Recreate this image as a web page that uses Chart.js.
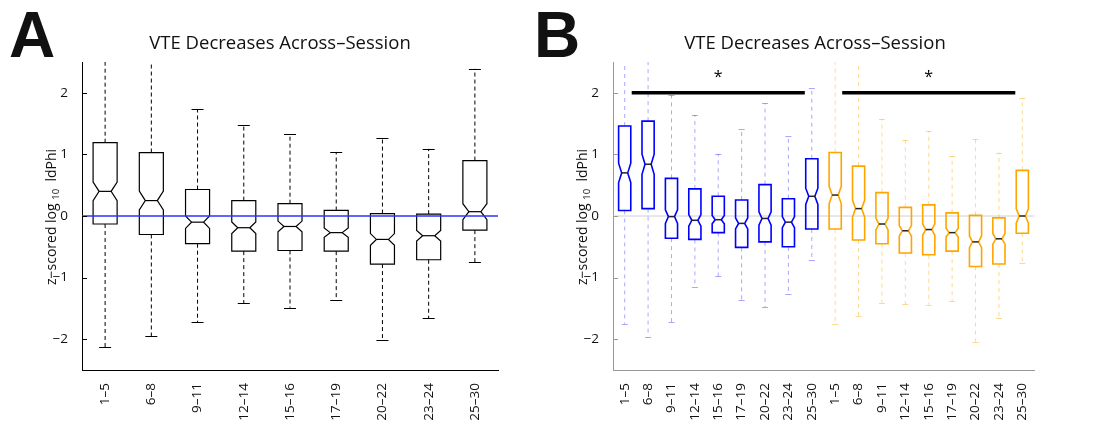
<!DOCTYPE html>
<html>
<head>
<meta charset="utf-8">
<script src="https://cdn.jsdelivr.net/npm/chart.js@4.4.1/dist/chart.umd.min.js"></script>
<style>
  body { margin: 0; background: #fff; width: 1094px; height: 430px; overflow: hidden; }
  .panel { position: absolute; top: 0; height: 430px; }
  #wrapA { left: 0; width: 510px; }
  #wrapB { left: 510px; width: 584px; }
</style>
</head>
<body>
<div class="panel" id="wrapA"><canvas id="chartA"></canvas></div>
<div class="panel" id="wrapB"><canvas id="chartB"></canvas></div>
<script>
// session groups (x categories)
const sessions = ['1–5', '6–8', '9–11', '12–14', '15–16', '17–19', '20–22', '23–24', '25–30'];
const yTicks = [-2, -1, 0, 1, 2];

// panel A : all rats
const aMax = [2.8, 2.8, 1.73, 1.47, 1.33, 1.04, 1.27, 1.09, 2.39];
const aQ3  = [1.19, 1.03, 0.43, 0.25, 0.20, 0.09, 0.04, 0.03, 0.90];
const aMed = [0.40, 0.25, -0.10, -0.19, -0.17, -0.27, -0.38, -0.32, 0.07];
const aQ1  = [-0.13, -0.30, -0.45, -0.57, -0.56, -0.57, -0.78, -0.71, -0.23];
const aMin = [-2.13, -1.95, -1.72, -1.42, -1.49, -1.37, -2.02, -1.66, -0.75];

// panel B : blue group
const bMax = [2.8, 2.8, 1.96, 1.64, 1.01, 1.42, 1.83, 1.30, 2.07];
const bQ3  = [1.46, 1.54, 0.61, 0.44, 0.32, 0.26, 0.51, 0.28, 0.93];
const bMed = [0.70, 0.84, -0.01, -0.07, -0.06, -0.12, -0.04, -0.10, 0.32];
const bQ1  = [0.09, 0.12, -0.36, -0.38, -0.27, -0.51, -0.42, -0.50, -0.21];
const bMin = [-1.75, -1.96, -1.72, -1.16, -0.98, -1.37, -1.48, -1.26, -0.72];

// panel B : orange group
const oMax = [2.8, 2.8, 1.58, 1.23, 1.38, 0.98, 1.25, 1.03, 1.91];
const oQ3  = [1.03, 0.81, 0.38, 0.14, 0.18, 0.05, 0.01, -0.03, 0.74];
const oMed = [0.34, 0.12, -0.13, -0.24, -0.22, -0.27, -0.42, -0.37, 0.00];
const oQ1  = [-0.21, -0.39, -0.45, -0.60, -0.63, -0.57, -0.82, -0.78, -0.28];
const oMin = [-1.76, -1.63, -1.41, -1.43, -1.44, -1.38, -2.04, -1.66, -0.76];

// significance bars (category index range) and their level
const sigBars = [[0.3, 7.7], [9.3, 16.7]];
const sigLevel = 2.0;

const titleText = 'VTE Decreases Across\u2013Session';
const FONT = '"Open Sans", "DejaVu Sans", sans-serif';

function minus(v) {
    return v < 0 ? '\u2212' + Math.abs(v) : String(v);
}

function makeBoxes(mx, q3, md, q1, mn, offset, style) {
    return mx.map((v, i) => Object.assign({
        i: i + offset, max: v, q3: q3[i], med: md[i], q1: q1[i], min: mn[i]
    }, style));
}

// draws notched boxes from the arrays, through the chart's own scales
const boxPlugin = {
    id: 'boxes',
    beforeDatasetsDraw(chart, args, opts) {
        const { ctx, chartArea: a, scales: { y } } = chart;
        if (opts.zeroLine && !opts.zeroOnTop) drawZero(ctx, a, y, opts.zeroLine);
    },
    afterDatasetsDraw(chart, args, opts) {
        const { ctx, chartArea: a, scales: { x, y } } = chart;
        const catW = x.getPixelForValue(1) - x.getPixelForValue(0);
        const hw = catW * 0.26;

        ctx.save();
        ctx.beginPath();
        ctx.rect(a.left, a.top, a.right - a.left, a.bottom - a.top);
        ctx.clip();

        opts.boxes.forEach(b => {
            const cx = x.getPixelForValue(b.i);
            const nh = 0.115 * (b.q3 - b.q1);
            const ni = hw * 0.5;

            // whiskers
            ctx.strokeStyle = b.whisker;
            ctx.lineWidth = 1;
            ctx.setLineDash(b.dash);
            ctx.beginPath();
            ctx.moveTo(cx, y.getPixelForValue(b.q3));
            ctx.lineTo(cx, y.getPixelForValue(b.max));
            ctx.moveTo(cx, y.getPixelForValue(b.q1));
            ctx.lineTo(cx, y.getPixelForValue(b.min));
            ctx.stroke();
            ctx.setLineDash([]);
            ctx.beginPath();
            [b.max, b.min].forEach(v => {
                const py = Math.round(y.getPixelForValue(v)) + 0.5;
                ctx.moveTo(cx - hw / 2, py);
                ctx.lineTo(cx + hw / 2, py);
            });
            ctx.stroke();

            // notched box
            const yq3 = y.getPixelForValue(b.q3), yq1 = y.getPixelForValue(b.q1);
            const ym = y.getPixelForValue(b.med);
            const yn1 = y.getPixelForValue(b.med + nh), yn2 = y.getPixelForValue(b.med - nh);
            ctx.strokeStyle = b.color;
            ctx.lineWidth = b.lw;
            ctx.lineJoin = 'miter';
            ctx.beginPath();
            ctx.moveTo(cx - hw, yq3);
            ctx.lineTo(cx + hw, yq3);
            ctx.lineTo(cx + hw, yn1);
            ctx.lineTo(cx + hw - ni, ym);
            ctx.lineTo(cx + hw, yn2);
            ctx.lineTo(cx + hw, yq1);
            ctx.lineTo(cx - hw, yq1);
            ctx.lineTo(cx - hw, yn2);
            ctx.lineTo(cx - hw + ni, ym);
            ctx.lineTo(cx - hw, yn1);
            ctx.closePath();
            ctx.stroke();

            // median
            ctx.strokeStyle = b.median;
            ctx.lineWidth = b.mlw;
            ctx.beginPath();
            ctx.moveTo(cx - hw + ni, ym);
            ctx.lineTo(cx + hw - ni, ym);
            ctx.stroke();
        });
        ctx.restore();

        if (opts.zeroLine && opts.zeroOnTop) drawZero(ctx, a, y, opts.zeroLine);

        // significance bars
        (opts.sig || []).forEach(s => {
            const py = y.getPixelForValue(sigLevel);
            ctx.save();
            ctx.strokeStyle = '#000';
            ctx.lineWidth = 3.5;
            ctx.beginPath();
            ctx.moveTo(x.getPixelForValue(s[0]), py);
            ctx.lineTo(x.getPixelForValue(s[1]), py);
            ctx.stroke();
            ctx.fillStyle = '#000';
            ctx.font = '16px ' + FONT;
            ctx.textAlign = 'center';
            ctx.textBaseline = 'middle';
            ctx.fillText('*', x.getPixelForValue((s[0] + s[1]) / 2), y.getPixelForValue(sigLevel + 0.25));
            ctx.restore();
        });
    },
    afterDraw(chart, args, opts) {
        const { ctx, chartArea: a, scales: { y } } = chart;
        ctx.save();
        // inward ticks
        ctx.strokeStyle = opts.axisColor;
        ctx.lineWidth = 1;
        ctx.beginPath();
        yTicks.forEach(v => {
            const py = Math.round(y.getPixelForValue(v)) + 0.5;
            ctx.moveTo(a.left, py);
            ctx.lineTo(a.left + 5, py);
        });
        ctx.stroke();

        // title
        ctx.fillStyle = '#111';
        ctx.font = '18.5px ' + FONT;
        ctx.textAlign = 'center';
        ctx.textBaseline = 'middle';
        ctx.fillText(titleText, opts.titleX, 44);

        // panel letter
        ctx.font = 'bold 64px "Liberation Sans", Arial, sans-serif';
        ctx.textAlign = 'left';
        ctx.textBaseline = 'alphabetic';
        ctx.fillText(opts.letter, opts.letterX, 57);

        // y axis label with subscript
        ctx.translate(opts.labelX, 217);
        ctx.rotate(-Math.PI / 2);
        ctx.textBaseline = 'middle';
        const parts = [['z\u2212scored log ', 14, 0], ['10', 9.5, 4], ['  ldPhi', 14, 0]];
        let total = 0;
        parts.forEach(p => { ctx.font = p[1] + 'px ' + FONT; total += ctx.measureText(p[0]).width; });
        let px = -total / 2;
        parts.forEach(p => {
            ctx.font = p[1] + 'px ' + FONT;
            ctx.fillText(p[0], px, p[2]);
            px += ctx.measureText(p[0]).width;
        });
        ctx.restore();
    }
};

function drawZero(ctx, a, y, z) {
    const py = y.getPixelForValue(0);
    ctx.save();
    ctx.strokeStyle = z.color;
    ctx.lineWidth = z.width;
    ctx.beginPath();
    ctx.moveTo(a.left, py);
    ctx.lineTo(a.right, py);
    ctx.stroke();
    ctx.restore();
}

function buildChart(id, labels, medians, axisW, rightPad, axisColor, pluginOpts) {
    return new Chart(document.getElementById(id), {
        type: 'line',
        data: {
            labels: labels,
            datasets: [{ data: medians, showLine: false, pointRadius: 0 }]
        },
        options: {
            responsive: true,
            maintainAspectRatio: false,
            animation: false,
            layout: { padding: { top: 62, right: rightPad, bottom: 0, left: 0 } },
            plugins: {
                legend: { display: false },
                tooltip: { enabled: false },
                boxes: Object.assign({ axisColor: axisColor }, pluginOpts)
            },
            scales: {
                x: {
                    type: 'category',
                    offset: true,
                    grid: { display: false },
                    border: { display: true, color: axisColor, width: 1 },
                    ticks: {
                        autoSkip: false,
                        minRotation: 90,
                        maxRotation: 90,
                        padding: 5,
                        color: '#111',
                        font: { family: FONT, size: 13.5 }
                    },
                    afterFit: s => { s.height = 60; }
                },
                y: {
                    min: -2.5,
                    max: 2.5,
                    grid: { display: false },
                    border: { display: true, color: axisColor, width: 1 },
                    afterBuildTicks: s => { s.ticks = yTicks.map(v => ({ value: v })); },
                    ticks: {
                        padding: 6,
                        color: '#111',
                        font: { family: FONT, size: 13.5 },
                        callback: v => minus(v)
                    },
                    afterFit: s => { s.width = axisW; }
                }
            }
        },
        plugins: [boxPlugin]
    });
}

const styleA = { color: '#000', lw: 1.2, whisker: '#000', dash: [4, 3], median: '#000', mlw: 1.2 };
const styleBlue = { color: '#0000ff', lw: 1.6, whisker: 'rgba(60,60,255,0.45)', dash: [4, 4], median: '#222', mlw: 1.5 };
const styleOrange = { color: '#ffa500', lw: 1.6, whisker: 'rgba(255,170,0,0.45)', dash: [4, 4], median: '#222', mlw: 1.5 };

buildChart('chartA', sessions, aMed, 82, 12, '#000', {
    boxes: makeBoxes(aMax, aQ3, aMed, aQ1, aMin, 0, styleA),
    zeroLine: { color: '#3030ff', width: 1.5 },
    zeroOnTop: true,
    titleX: 280,
    letter: 'A',
    letterX: 9,
    labelX: 52
});

buildChart('chartB', sessions.concat(sessions), bMed.concat(oMed), 103, 60, '#999', {
    boxes: makeBoxes(bMax, bQ3, bMed, bQ1, bMin, 0, styleBlue)
        .concat(makeBoxes(oMax, oQ3, oMed, oQ1, oMin, 9, styleOrange)),
    zeroLine: { color: '#d0d0d0', width: 1 },
    zeroOnTop: false,
    sig: sigBars,
    titleX: 305,
    letter: 'B',
    letterX: 24,
    labelX: 73
});
</script>
</body>
</html>
